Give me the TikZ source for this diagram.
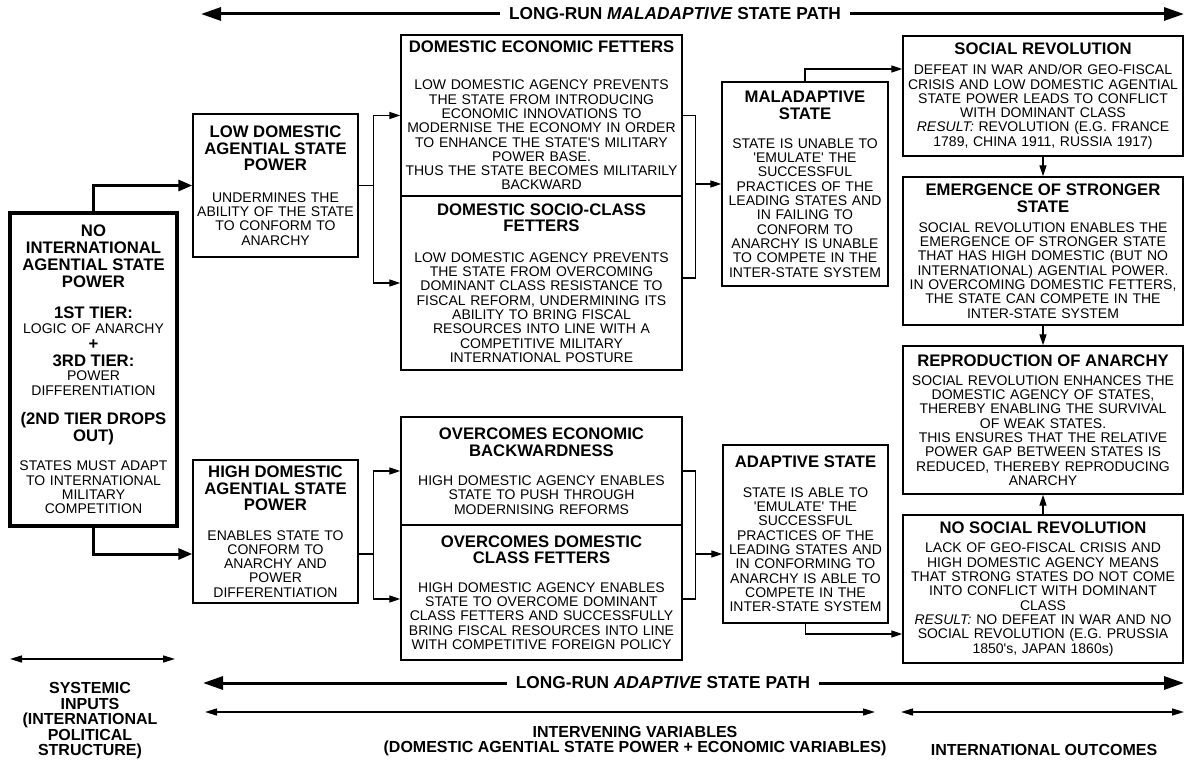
\documentclass[tikz,border=0pt]{standalone}
\usepackage{fontspec}
\setmainfont{Liberation Sans}[Ligatures=TeXOff]
\usetikzlibrary{arrows.meta}

\newcommand{\bodyfont}{\fontsize{14}{14.3}\selectfont}
\newcommand{\headfont}{\fontsize{16.7}{16.7}\selectfont\bfseries}
\newcommand{\boxhead}[2]{{\headfont #2\par}\vspace{#1}}

\tikzstyle{box} = [draw, line width=1.4pt, align=center, inner xsep=2pt, inner ysep=0pt, font=\bodyfont]
\tikzstyle{link} = [line width=1.3pt]
\tikzstyle{arr} = [link, -{Triangle[length=11pt,width=7pt]}]
\tikzstyle{thickarr} = [line width=3pt, -{Triangle[length=14pt,width=11pt]}]
\tikzstyle{patharr} = [line width=3pt, -{Triangle[length=20pt,width=13pt]}]
\tikzstyle{spanarr} = [line width=1.5pt, arrows={Triangle[length=12pt,width=7pt]-Triangle[length=12pt,width=7pt]}]
\tikzstyle{pathlabel} = [font=\fontsize{17.3}{17.3}\selectfont\bfseries, inner xsep=9pt, inner ysep=0pt]
\tikzstyle{axislabel} = [align=center, font=\fontsize{16}{15.5}\selectfont\bfseries, inner sep=0pt]

\begin{document}
\begin{tikzpicture}[x=1pt,y=-1pt]
	\useasboundingbox (0,0) rectangle (1187,762);
	\node[box, line width=4pt, text width=163pt, minimum height=313pt] (noint) at (93.5,369.5) {\boxhead{15pt}{NO\\INTERNATIONAL\\AGENTIAL STATE\\POWER}\boxhead{0pt}{1ST TIER:}LOGIC OF ANARCHY\par\boxhead{0pt}{+}\boxhead{0pt}{3RD TIER:}POWER\\DIFFERENTIATION\par\vspace{13pt}\boxhead{15pt}{(2ND TIER DROPS\\OUT)}STATES MUST ADAPT\\TO INTERNATIONAL\\MILITARY\\COMPETITION};
	\node[box, text width=161pt, minimum height=143pt] (low) at (275.5,185.5) {\boxhead{17pt}{LOW DOMESTIC\\AGENTIAL STATE\\POWER}UNDERMINES THE\\ABILITY OF THE STATE\\TO CONFORM TO\\ANARCHY};
	\node[box, text width=161pt, minimum height=143pt] (high) at (275.5,531.5) {\boxhead{15pt}{HIGH DOMESTIC\\AGENTIAL STATE\\POWER}ENABLES STATE TO\\CONFORM TO\\ANARCHY AND\\POWER\\DIFFERENTIATION};
	\node[box, text width=277pt, minimum height=161pt] (econ) at (541.5,115.5) {\boxhead{23pt}{DOMESTIC ECONOMIC FETTERS}LOW DOMESTIC AGENCY PREVENTS\\THE STATE FROM INTRODUCING\\ECONOMIC INNOVATIONS TO\\MODERNISE THE ECONOMY IN ORDER\\TO ENHANCE THE STATE'S MILITARY\\POWER BASE.\\THUS THE STATE BECOMES MILITARILY\\BACKWARD};
	\node[box, text width=277pt, minimum height=174pt] (socio) at (541.5,283) {\boxhead{16pt}{DOMESTIC SOCIO-CLASS\\FETTERS}LOW DOMESTIC AGENCY PREVENTS\\THE STATE FROM OVERCOMING\\DOMINANT CLASS RESISTANCE TO\\FISCAL REFORM, UNDERMINING ITS\\ABILITY TO BRING FISCAL\\RESOURCES INTO LINE WITH A\\COMPETITIVE MILITARY\\INTERNATIONAL POSTURE};
	\node[box, text width=277pt, minimum height=108pt] (oecon) at (541.5,471) {\boxhead{15pt}{OVERCOMES ECONOMIC\\BACKWARDNESS}HIGH DOMESTIC AGENCY ENABLES\\STATE TO PUSH THROUGH\\MODERNISING REFORMS};
	\node[box, text width=277pt, minimum height=135pt] (ofet) at (541.5,592.5) {\boxhead{14pt}{OVERCOMES DOMESTIC\\CLASS FETTERS}HIGH DOMESTIC AGENCY ENABLES\\STATE TO OVERCOME DOMINANT\\CLASS FETTERS AND SUCCESSFULLY\\BRING FISCAL RESOURCES INTO LINE\\WITH COMPETITIVE FOREIGN POLICY};
	\node[box, text width=162pt, minimum height=204pt] (mal) at (805,184) {\boxhead{15pt}{MALADAPTIVE\\STATE}STATE IS UNABLE TO\\'EMULATE' THE\\SUCCESSFUL\\PRACTICES OF THE\\LEADING STATES AND\\IN FAILING TO\\CONFORM TO\\ANARCHY IS UNABLE\\TO COMPETE IN THE\\INTER-STATE SYSTEM};
	\node[box, text width=161pt, minimum height=178pt] (adap) at (805.5,534) {\boxhead{15pt}{ADAPTIVE STATE}STATE IS ABLE TO\\'EMULATE' THE\\SUCCESSFUL\\PRACTICES OF THE\\LEADING STATES AND\\IN CONFORMING TO\\ANARCHY IS ABLE TO\\COMPETE IN THE\\INTER-STATE SYSTEM};
	\node[box, text width=276pt, minimum height=120pt] (socrev) at (1043,96) {\boxhead{6pt}{SOCIAL REVOLUTION}DEFEAT IN WAR AND/OR GEO-FISCAL\\CRISIS AND LOW DOMESTIC AGENTIAL\\STATE POWER LEADS TO CONFLICT\\WITH DOMINANT CLASS\\\textit{RESULT:} REVOLUTION (E.G. FRANCE\\1789, CHINA 1911, RUSSIA 1917)};
	\node[box, text width=276pt, minimum height=148pt] (emerg) at (1043,251) {\boxhead{6pt}{EMERGENCE OF STRONGER\\STATE}SOCIAL REVOLUTION ENABLES THE\\EMERGENCE OF STRONGER STATE\\THAT HAS HIGH DOMESTIC (BUT NO\\INTERNATIONAL) AGENTIAL POWER.\\IN OVERCOMING DOMESTIC FETTERS,\\THE STATE CAN COMPETE IN THE\\INTER-STATE SYSTEM};
	\node[box, text width=276pt, minimum height=148pt] (repro) at (1043,420) {\boxhead{5pt}{REPRODUCTION OF ANARCHY}SOCIAL REVOLUTION ENHANCES THE\\DOMESTIC AGENCY OF STATES,\\THEREBY ENABLING THE SURVIVAL\\OF WEAK STATES.\\THIS ENSURES THAT THE RELATIVE\\POWER GAP BETWEEN STATES IS\\REDUCED, THEREBY REPRODUCING\\ANARCHY};
	\node[box, text width=276pt, minimum height=148pt] (nosoc) at (1043,589) {\boxhead{5pt}{NO SOCIAL REVOLUTION}LACK OF GEO-FISCAL CRISIS AND\\HIGH DOMESTIC AGENCY MEANS\\THAT STRONG STATES DO NOT COME\\INTO CONFLICT WITH DOMINANT\\CLASS\\\textit{RESULT:} NO DEFEAT IN WAR AND NO\\SOCIAL REVOLUTION (E.G. PRUSSIA\\1850's, JAPAN 1860s)};
	\draw[thickarr] (noint.north) |- (low.west);
	\coordinate (hin) at ([yshift=-22.5pt]high.west);
	\draw[thickarr] (noint.south) |- (hin);
	\draw[link] (low.east) -- ++(15,0) coordinate (lj);
	\draw[arr] (lj) |- (econ.west);
	\draw[arr] (lj) |- (socio.west);
	\coordinate (hout) at ([yshift=-22.5pt]high.east);
	\draw[link] (hout) -- ++(15,0) coordinate (hj);
	\draw[arr] (hj) |- (oecon.west);
	\draw[arr] (hj) |- ([yshift=-6.5pt]ofet.west);
	\draw[link] (econ.east) -- ++(13,0) coordinate (ej) |- ([yshift=5pt]socio.east);
	\draw[arr] (ej |- mal.west) -- (mal.west);
	\draw[link] (oecon.east) -- ++(13,0) coordinate (oj) |- ([yshift=-6.5pt]ofet.east);
	\coordinate (ain) at ([yshift=-20pt]adap.west);
	\draw[arr] (oj |- ain) -- (ain);
	\draw[arr] (mal.north) |- ([yshift=27pt]socrev.west);
	\draw[arr] (adap.south) |- ([yshift=-45pt]nosoc.west);
	\draw[arr] (socrev) -- (emerg);
	\draw[arr] (emerg) -- (repro);
	\draw[arr] (nosoc) -- (repro);
	\node[pathlabel] (maltitle) at (675,14) {LONG-RUN \textit{MALADAPTIVE} STATE PATH};
	\coordinate (malleft) at (201,14);
	\coordinate (malright) at (1184,14);
	\draw[patharr] (maltitle.west) -- (malleft);
	\draw[patharr] (maltitle.east) -- (malright);
	\node[pathlabel] (adtitle) at (663,683) {LONG-RUN \textit{ADAPTIVE} STATE PATH};
	\coordinate (adleft) at (203,683);
	\coordinate (adright) at (1184,683);
	\draw[patharr] (adtitle.west) -- (adleft);
	\draw[patharr] (adtitle.east) -- (adright);
	\coordinate (sysleft) at (10,659);
	\coordinate (sysright) at (175,659);
	\draw[spanarr] (sysleft) -- (sysright);
	\coordinate (intleft) at (205,712);
	\coordinate (intright) at (875,712);
	\draw[spanarr] (intleft) -- (intright);
	\coordinate (outleft) at (901,712);
	\coordinate (outright) at (1184,712);
	\draw[spanarr] (outleft) -- (outright);
	\node[axislabel] (systemic) at (90,721) {SYSTEMIC\\INPUTS\\(INTERNATIONAL\\POLITICAL\\STRUCTURE)};
	\node[axislabel] (intervening) at (635,741) {INTERVENING VARIABLES\\(DOMESTIC AGENTIAL STATE POWER + ECONOMIC VARIABLES)};
	\node[axislabel] (outcomes) at (1044,750) {INTERNATIONAL OUTCOMES};
\end{tikzpicture}
\end{document}
